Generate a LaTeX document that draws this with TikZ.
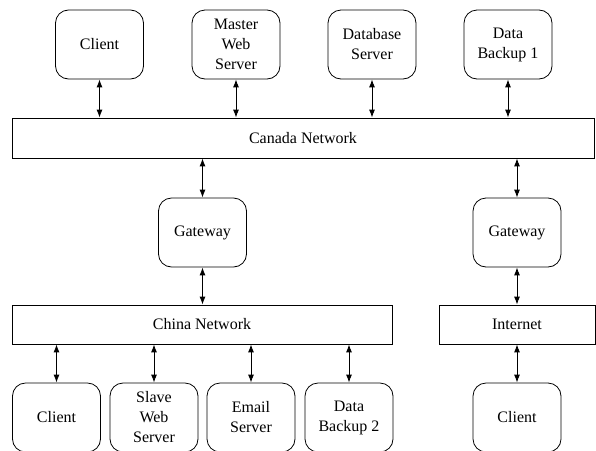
\documentclass[tikz,border=0pt]{standalone}
\usepackage{fontspec}
\setmainfont{Liberation Serif}
\usetikzlibrary{arrows.meta}
\begin{document}
\begin{tikzpicture}[x=1pt,y=-1pt,
  every node/.style={font=\fontsize{16pt}{20pt}\selectfont, align=center, inner sep=0pt},
  rbox/.style={draw, line width=0.8pt, rounded corners=13pt, minimum width=88pt, minimum height=69pt},
  netbox/.style={draw, line width=0.8pt, minimum height=40pt},
  arr/.style={line width=0.9pt, {Latex[length=8pt,width=6pt]}-{Latex[length=8pt,width=6pt]}}]
\useasboundingbox (0,0) rectangle (596,450);
% top row
\node[rbox] (c1) at (99.5,44.5) {Client};
\node[rbox] (mws) at (236,44.5) {Master\\Web\\Server};
\node[rbox] (dbs) at (372,44.5) {Database\\Server};
\node[rbox] (db1) at (508,44.5) {Data\\Backup 1};
% Canada network
\node[netbox, minimum width=582pt] (can) at (303,138) {Canada Network};
% gateways
\node[rbox] (g1) at (202.5,232.5) {Gateway};
\node[rbox] (g2) at (517,232.5) {Gateway};
% networks
\node[netbox, minimum width=380pt, minimum height=39pt] (chn) at (202,324.5) {China Network};
\node[netbox, minimum width=156pt, minimum height=39pt] (inet) at (517,324.5) {Internet};
% bottom row
\node[rbox] (c2) at (56.5,417.5) {Client};
\node[rbox] (sws) at (154,417.5) {Slave\\Web\\Server};
\node[rbox] (ems) at (251,417.5) {Email\\Server};
\node[rbox] (db2) at (349,417.5) {Data\\Backup 2};
\node[rbox] (c3) at (517,417.5) {Client};
% connectors
\draw[arr] (c1.south) -- (c1.south |- can.north);
\draw[arr] (mws.south) -- (mws.south |- can.north);
\draw[arr] (dbs.south) -- (dbs.south |- can.north);
\draw[arr] (db1.south) -- (db1.south |- can.north);
\draw[arr] (g1.north |- can.south) -- (g1.north);
\draw[arr] (g2.north |- can.south) -- (g2.north);
\draw[arr] (g1.south) -- (g1.south |- chn.north);
\draw[arr] (g2.south) -- (g2.south |- inet.north);
\draw[arr] (c2.north |- chn.south) -- (c2.north);
\draw[arr] (sws.north |- chn.south) -- (sws.north);
\draw[arr] (ems.north |- chn.south) -- (ems.north);
\draw[arr] (db2.north |- chn.south) -- (db2.north);
\draw[arr] (c3.north |- inet.south) -- (c3.north);
\end{tikzpicture}
\end{document}
